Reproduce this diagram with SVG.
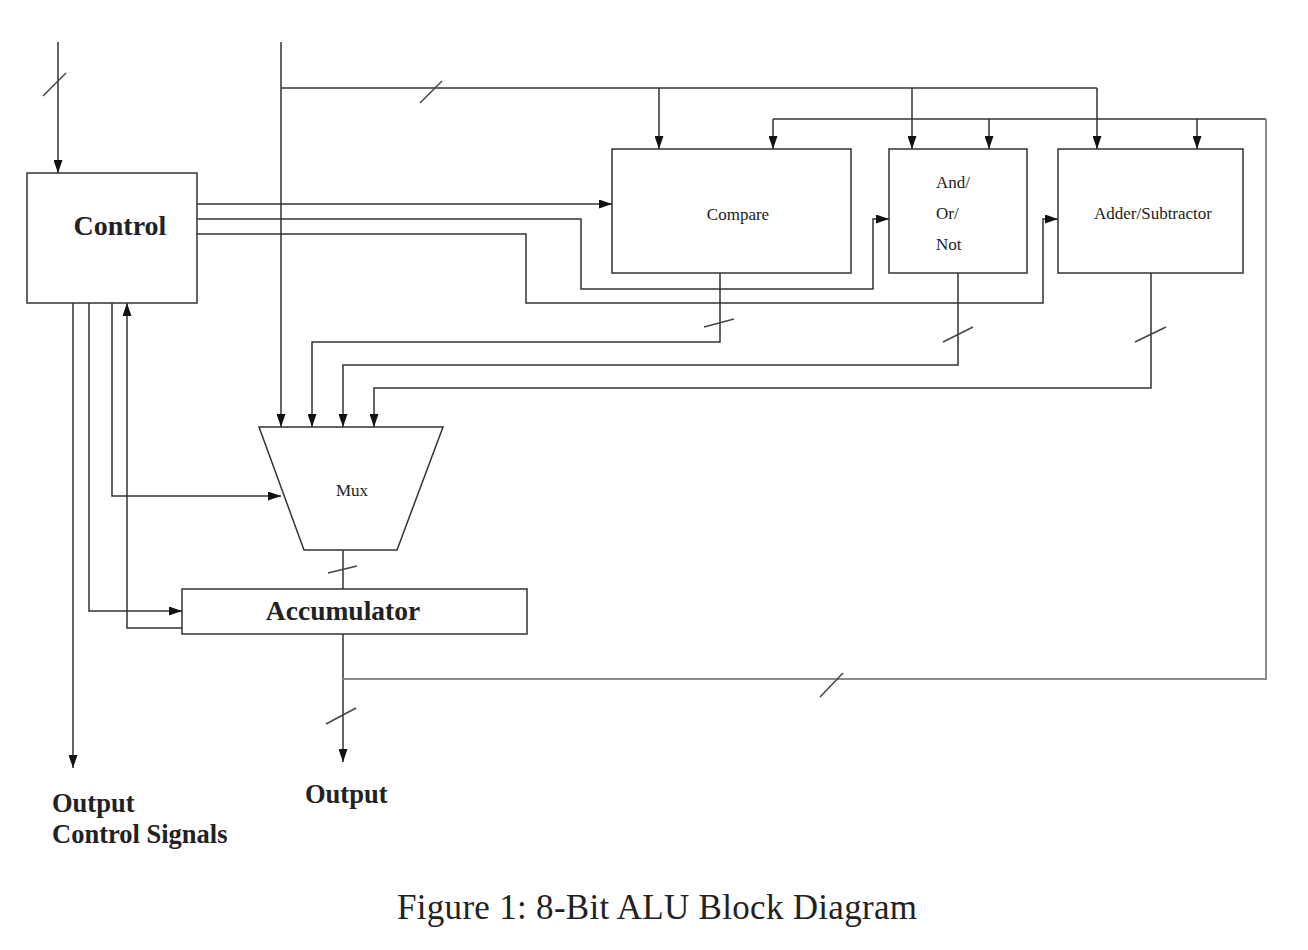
<svg xmlns="http://www.w3.org/2000/svg" width="1308" height="950" viewBox="0 0 1308 950">
<style>
.ln{fill:none;stroke:#333;stroke-width:1.5}
.lg{fill:none;stroke:#8a8a8a;stroke-width:2}
.sl{fill:none;stroke:#444;stroke-width:1.5}
.box{fill:#fff;stroke:#333;stroke-width:1.5}
.t{font-family:"Liberation Serif","Times New Roman",serif;fill:#222}
.b{font-weight:bold}
.r{font-size:17px}
</style>
<defs>
<marker id="ah" viewBox="0 0 13 9" refX="13" refY="4.5" markerWidth="13" markerHeight="9" markerUnits="userSpaceOnUse" orient="auto">
<path d="M0,0 L13,4.5 L0,9 Z" fill="#111"/>
</marker>
</defs>
<rect width="1308" height="950" fill="#fff"/>
<g id="connectors">
<path class="ln" d="M58,42 V173" marker-end="url(#ah)"/>
<path class="ln" d="M281,42 V427" marker-end="url(#ah)"/>
<path class="ln" d="M281,88 H1097"/>
<path class="ln" d="M659,88 V149" marker-end="url(#ah)"/>
<path class="ln" d="M912,88 V149" marker-end="url(#ah)"/>
<path class="ln" d="M1097,88 V149" marker-end="url(#ah)"/>
<path class="ln" d="M773,119 H1266"/>
<path class="ln" d="M773,119 V149" marker-end="url(#ah)"/>
<path class="ln" d="M989,119 V149" marker-end="url(#ah)"/>
<path class="ln" d="M1197,119 V149" marker-end="url(#ah)"/>
<path class="ln" d="M197,204 H612" marker-end="url(#ah)"/>
<path class="ln" d="M197,219 H581 V289 H873 V219 H889" marker-end="url(#ah)"/>
<path class="ln" d="M197,234 H526 V303 H1043 V219 H1058" marker-end="url(#ah)"/>
<path class="ln" d="M720,273 V342 H312 V427" marker-end="url(#ah)"/>
<path class="ln" d="M958,273 V365 H343 V427" marker-end="url(#ah)"/>
<path class="ln" d="M1151,273 V388 H374 V427" marker-end="url(#ah)"/>
<path class="ln" d="M73,303 V768" marker-end="url(#ah)"/>
<path class="ln" d="M89,303 V611 H182" marker-end="url(#ah)"/>
<path class="ln" d="M112,303 V496 H281" marker-end="url(#ah)"/>
<path class="ln" d="M182,628 H127 V303" marker-end="url(#ah)"/>
<path class="ln" d="M343,550 V589"/>
<path class="ln" d="M343,634 V762" marker-end="url(#ah)"/>
<path class="lg" d="M343,679 H1266 V119"/>
<path class="sl" d="M43,96 L66,73"/>
<path class="sl" d="M420,103 L442,81"/>
<path class="sl" d="M704,327 L734,319"/>
<path class="sl" d="M943,342 L973,327"/>
<path class="sl" d="M1135,342 L1166,327"/>
<path class="sl" d="M328,573 L357,566"/>
<path class="sl" d="M326,724 L356,708"/>
<path class="sl" d="M820,697 L843,673"/>
</g>
<g id="control">
<rect class="box" x="27" y="173" width="170" height="130"/>
<text class="t b" x="120" y="235" text-anchor="middle" style="font-size:28px">Control</text>
</g>
<g id="compare">
<rect class="box" x="612" y="149" width="239" height="124"/>
<text class="t r" x="738" y="220" text-anchor="middle">Compare</text>
</g>
<g id="andornot">
<rect class="box" x="889" y="149" width="138" height="124"/>
<text class="t r" x="936" y="188">And/</text>
<text class="t r" x="936" y="219">Or/</text>
<text class="t r" x="936" y="250">Not</text>
</g>
<g id="addersub">
<rect class="box" x="1058" y="149" width="185" height="124"/>
<text class="t r" x="1153" y="219" text-anchor="middle">Adder/Subtractor</text>
</g>
<g id="mux">
<path class="box" d="M259,427 H443 L397,550 H304 Z"/>
<text class="t r" x="352" y="496" text-anchor="middle">Mux</text>
</g>
<g id="accumulator">
<rect class="box" x="182" y="589" width="345" height="45"/>
<text class="t b" x="343" y="620" text-anchor="middle" style="font-size:27.5px">Accumulator</text>
</g>
<g id="labels">
<text class="t b" x="52" y="812" style="font-size:26.5px">Output</text>
<text class="t b" x="52" y="843" style="font-size:26.5px">Control Signals</text>
<text class="t b" x="305" y="803" style="font-size:26.5px">Output</text>
<text class="t" x="397" y="919" font-size="35" textLength="520" lengthAdjust="spacing" fill="#111">Figure 1: 8-Bit ALU Block Diagram</text>
</g>
</svg>
